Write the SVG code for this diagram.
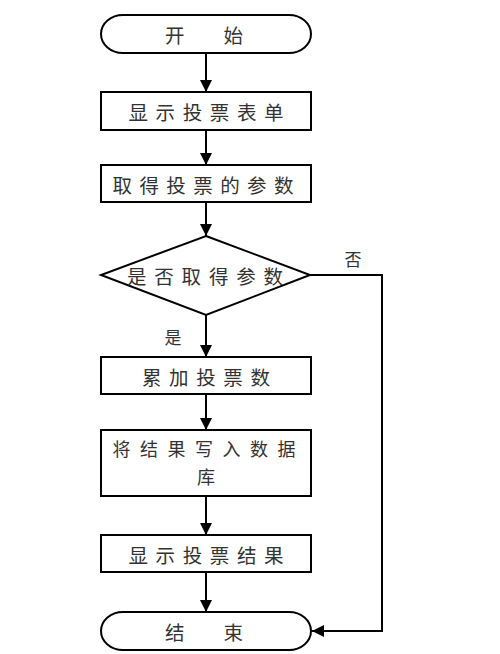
<svg xmlns="http://www.w3.org/2000/svg" width="500" height="654" viewBox="0 0 500 654">
<style>
.s{fill:#fff;stroke:#000;stroke-width:2}
.t{font-family:"Noto Sans CJK SC","Noto Sans",sans-serif;font-size:19.5px;fill:#333;text-anchor:middle;dominant-baseline:central}
.c{fill:none;stroke:#000;stroke-width:2}
</style>
<defs>
<marker id="ah" viewBox="0 0 12 12" refX="12" refY="6" markerWidth="12" markerHeight="12" markerUnits="userSpaceOnUse" orient="auto">
<path d="M0,0 L12,6 L0,12 Z" fill="#000"/>
</marker>
</defs>
<rect width="500" height="654" fill="#fff"/>
<g id="connectors">
<line class="c" x1="206" y1="53" x2="206" y2="92" marker-end="url(#ah)"/>
<line class="c" x1="206" y1="130" x2="206" y2="165" marker-end="url(#ah)"/>
<line class="c" x1="206" y1="202" x2="206" y2="236" marker-end="url(#ah)"/>
<line class="c" x1="206" y1="315" x2="206" y2="357" marker-end="url(#ah)"/>
<line class="c" x1="206" y1="394" x2="206" y2="430" marker-end="url(#ah)"/>
<line class="c" x1="206" y1="496" x2="206" y2="535" marker-end="url(#ah)"/>
<line class="c" x1="206" y1="572" x2="206" y2="612" marker-end="url(#ah)"/>
<polyline class="c" points="310,275 382,275 382,631 312,631" marker-end="url(#ah)"/>
<text class="t" x="353" y="258" style="font-size:17px">否</text>
<text class="t" x="173" y="336" style="font-size:17px">是</text>
</g>
<g id="start">
<rect class="s" x="101" y="15" width="210" height="38" rx="22" ry="19"/>
<text class="t" x="204" y="34" textLength="78" lengthAdjust="spacing">开    始</text>
</g>
<g id="show-form">
<rect class="s" x="101" y="92" width="210" height="38"/>
<text class="t" x="206" y="111" textLength="155" lengthAdjust="spacing">显示投票表单</text>
</g>
<g id="get-params">
<rect class="s" x="101" y="165" width="210" height="37"/>
<text class="t" x="203" y="184" textLength="181" lengthAdjust="spacing">取得投票的参数</text>
</g>
<g id="decision">
<polygon class="s" points="206,236 310,275 206,315 101,275"/>
<text class="t" x="205" y="275" textLength="156" lengthAdjust="spacing">是否取得参数</text>
</g>
<g id="accumulate">
<rect class="s" x="101" y="357" width="210" height="37"/>
<text class="t" x="206" y="376" textLength="128" lengthAdjust="spacing">累加投票数</text>
</g>
<g id="write-db">
<rect class="s" x="101" y="430" width="210" height="66"/>
<text class="t" x="204" y="448" style="font-size:18px" textLength="183" lengthAdjust="spacing">将结果写入数据</text>
<text class="t" x="206" y="476" style="font-size:18px">库</text>
</g>
<g id="show-result">
<rect class="s" x="101" y="535" width="210" height="37"/>
<text class="t" x="206" y="554" textLength="155" lengthAdjust="spacing">显示投票结果</text>
</g>
<g id="end">
<rect class="s" x="101" y="612" width="210" height="38" rx="22" ry="19"/>
<text class="t" x="204" y="631" textLength="78" lengthAdjust="spacing">结    束</text>
</g>
</svg>
